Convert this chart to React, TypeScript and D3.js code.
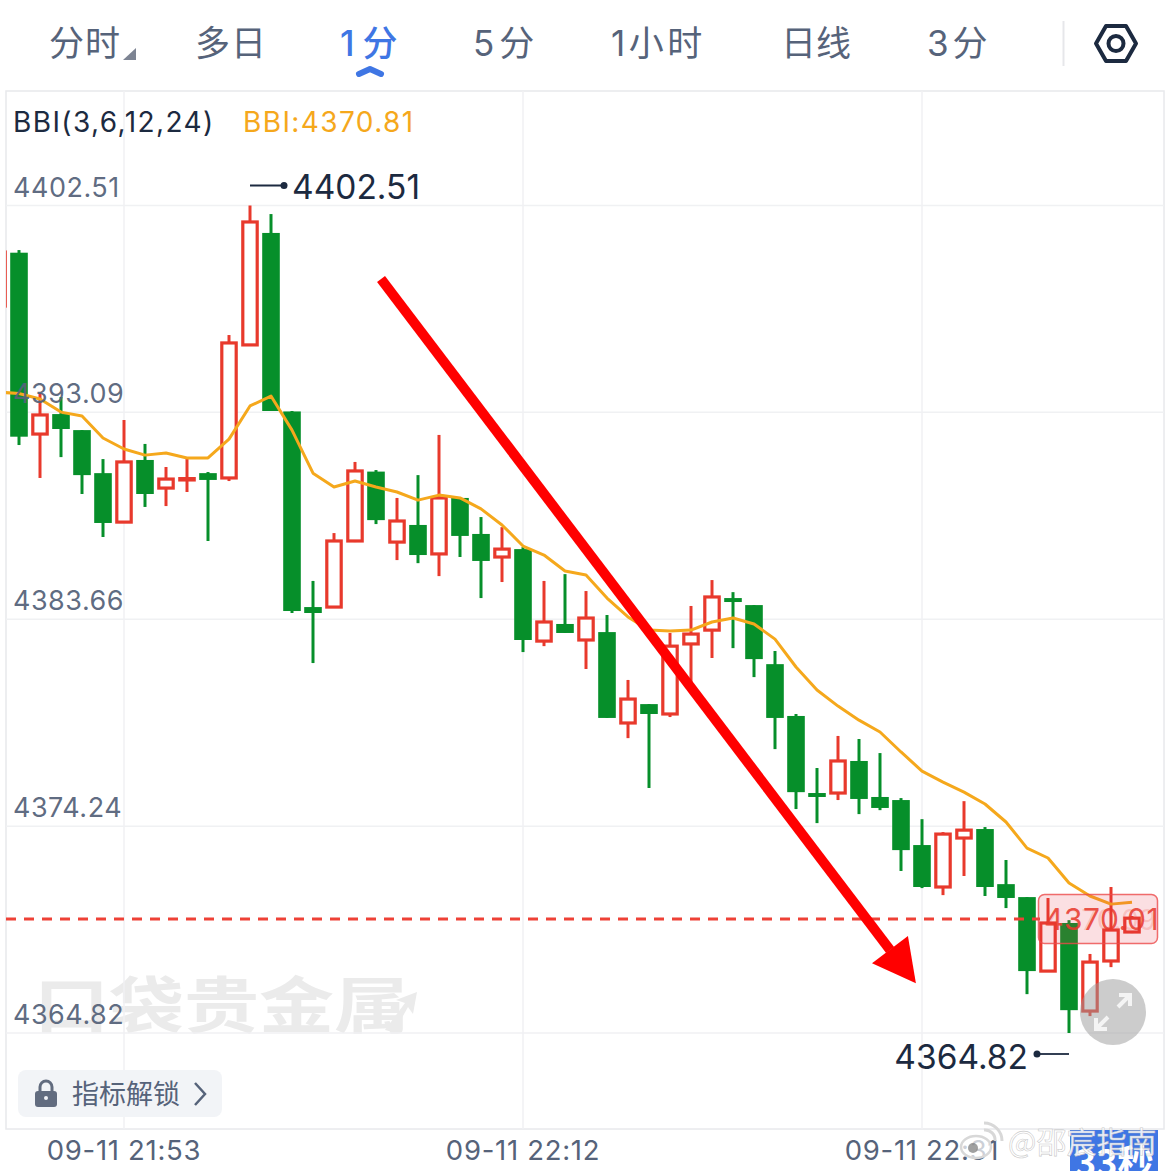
import React from "react";
import * as d3 from "d3";

// Each candle: [open, high, low, close]; first index is -1 (partly clipped at the left edge)
const firstIndex = -1;
const candles: number[][] = [
  [4397.93, 4400.39, 4397.93, 4400.39],
  [4400.36, 4400.48, 4391.60, 4391.98],
  [4392.10, 4393.97, 4390.10, 4392.97],
  [4393.01, 4393.79, 4391.05, 4392.33],
  [4392.28, 4392.28, 4389.37, 4390.23],
  [4390.32, 4390.96, 4387.41, 4388.05],
  [4388.09, 4392.74, 4388.09, 4390.83],
  [4390.92, 4391.65, 4388.78, 4389.37],
  [4389.64, 4390.60, 4388.82, 4390.05],
  [4390.01, 4391.01, 4389.46, 4390.07],
  [4390.32, 4390.37, 4387.23, 4390.01],
  [4390.10, 4396.61, 4389.96, 4396.25],
  [4396.16, 4402.51, 4396.16, 4401.76],
  [4401.26, 4402.12, 4393.15, 4393.15],
  [4393.13, 4393.15, 4383.95, 4384.04],
  [4384.22, 4385.41, 4381.67, 4383.95],
  [4384.22, 4387.59, 4384.22, 4387.23],
  [4387.23, 4390.83, 4387.18, 4390.42],
  [4390.39, 4390.46, 4388.00, 4388.18],
  [4387.18, 4389.19, 4386.36, 4388.14],
  [4387.96, 4390.23, 4386.22, 4386.59],
  [4386.64, 4392.06, 4385.63, 4389.19],
  [4389.19, 4389.19, 4386.50, 4387.46],
  [4387.55, 4388.32, 4384.63, 4386.32],
  [4386.50, 4387.86, 4385.36, 4386.86],
  [4386.86, 4386.95, 4382.17, 4382.72],
  [4382.67, 4385.41, 4382.44, 4383.54],
  [4383.45, 4385.72, 4383.04, 4383.04],
  [4382.72, 4384.95, 4381.40, 4383.72],
  [4383.08, 4383.86, 4379.17, 4379.17],
  [4378.94, 4380.90, 4378.25, 4380.03],
  [4379.80, 4379.80, 4375.98, 4379.35],
  [4379.35, 4383.04, 4379.21, 4382.44],
  [4382.54, 4384.27, 4380.76, 4382.99],
  [4383.17, 4385.45, 4381.90, 4384.68],
  [4384.63, 4384.90, 4382.35, 4384.45],
  [4384.31, 4384.31, 4381.03, 4381.85],
  [4381.62, 4382.22, 4377.75, 4379.17],
  [4379.26, 4379.35, 4375.02, 4375.79],
  [4375.75, 4376.89, 4374.38, 4375.57],
  [4375.75, 4378.35, 4375.43, 4377.21],
  [4377.21, 4378.21, 4374.79, 4375.48],
  [4375.57, 4377.57, 4374.97, 4375.07],
  [4375.43, 4375.52, 4372.20, 4373.15],
  [4373.38, 4374.56, 4371.42, 4371.47],
  [4371.47, 4373.97, 4371.10, 4373.88],
  [4373.70, 4375.38, 4371.97, 4374.06],
  [4374.11, 4374.20, 4371.06, 4371.47],
  [4371.60, 4372.70, 4370.51, 4370.97],
  [4371.01, 4371.01, 4366.59, 4367.64],
  [4367.64, 4370.97, 4367.64, 4369.83],
  [4369.83, 4369.96, 4364.82, 4365.86],
  [4365.82, 4368.42, 4365.59, 4368.05],
  [4368.10, 4371.47, 4367.82, 4369.51],
  [4369.42, 4370.15, 4369.37, 4370.05],
];
const bbi: number[] = [
  4394.01, 4393.95, 4393.70, 4393.10, 4392.92, 4391.92, 4391.42, 4391.14, 4391.24, 4391.01,
  4391.01, 4391.87, 4393.38, 4393.83, 4392.28, 4390.32, 4389.69, 4389.96, 4389.69, 4389.46,
  4389.09, 4389.32, 4389.19, 4388.69, 4387.96, 4387.00, 4386.59, 4385.86, 4385.68, 4384.63,
  4383.77, 4383.17, 4383.13, 4383.17, 4383.54, 4383.72, 4383.45, 4382.76, 4381.49, 4380.44,
  4379.71, 4379.07, 4378.53, 4377.62, 4376.75, 4376.25, 4375.79, 4375.25, 4374.43, 4373.24,
  4372.79, 4371.65, 4371.06, 4370.69, 4370.78,
];
const priceTicks = [4402.51, 4393.09, 4383.66, 4374.24, 4364.82];
const timeTicks: [number, string][] = [[5, "09-11 21:53"], [24, "09-11 22:12"], [43, "09-11 22:31"]];
const tabs: [string, number, number][] = [["分时", 49, 1], ["多日", 195, 1], ["1分", 340, 8], ["5分", 473, 5], ["1小时", 611, 3.5], ["日线", 781, 0], ["3分", 927, 4]];
const currentPrice = 4370.01;
const maxPoint = { i: 11, price: 4402.51 };
const minPoint = { i: 50, price: 4364.82 };
// hand-drawn arrow, in chart coordinates [index, price]
const arrowShaft: [number, number][] = [[17.24, 4399.16], [41.48, 4368.6]];
const arrowHead: [number, number][] = [[42.71, 4367.09], [40.62, 4368.0], [42.33, 4369.24]];

const x = d3.scaleLinear().domain([-1, 54]).range([-2, 1153]);
const y = d3.scaleLinear().domain([4364.82, 4402.51]).range([1033, 205.5]);

const UP = "#e8392c";
const DOWN = "#068f2a";
const GRID = "#f0f1f3";
const GREY = "#56637a";
const DARK = "#1c2a40";
const ORANGE = "#f5a81c";
const BLUE = "#3f76e4";
const FONT = "'Inter','Noto Sans CJK SC',sans-serif";
const CJK = "'Noto Sans CJK SC',sans-serif";

const bbiLine = d3.line<number>().x((_, k) => x(firstIndex + k)).y((d) => y(d));

export default function App() {
  const L = 6, R = 1164, T = 91, B = 1129;
  return (
    <svg width={1170} height={1171} style={{ position: "absolute", left: 0, top: 0, display: "block", background: "#fff" }} fontFamily={FONT}>
      <defs>
        <clipPath id="plot"><rect x={L} y={T} width={R - L} height={B - T} /></clipPath>
        <clipPath id="badge"><rect x={1070} y={1130} width={88} height={41} /></clipPath>
      </defs>

      {/* tabs */}
      {tabs.map(([t, tx, sp]) => (
        <text key={t} x={tx} y={56} fontSize={35} letterSpacing={sp} fill={t === "1分" ? BLUE : GREY} fontWeight={t === "1分" ? 500 : 400} fontFamily={FONT}>{t}</text>
      ))}
      <path d="M123 60 L136 60 L136 48 Z" fill="#7d8493" />
      <path d="M359 74 L370 69 L381 74" fill="none" stroke={BLUE} strokeWidth={6} strokeLinecap="round" strokeLinejoin="round" />
      <line x1={1063.5} x2={1063.5} y1={21} y2={66} stroke="#e6e7ea" strokeWidth={2} />
      <path d="M1106 26 L1126 26 L1136 43.500 L1126 61 L1106 61 L1096 43.500 Z" fill="none" stroke={DARK} strokeWidth={4} strokeLinejoin="round" />
      <circle cx={1116} cy={43.5} r={7.500} fill="none" stroke={DARK} strokeWidth={4} />

      {/* frame */}
      <rect x={L} y={T} width={R - L} height={B - T} fill="#fff" stroke="#e8e9ec" strokeWidth={1.500} />

      {/* watermark */}
      <g transform="translate(34,1028) scale(1,0.82)">
        <text x={0} y={0} fontSize={75} fontWeight={700} fill="#ebebeb" fontFamily={CJK}>口袋贵金属</text>
      </g>
      <path d="M385 1030 L405 1003 L396 1000 L417 992 L413 1014 L408 1007 L394 1032 Z" fill="#ebebeb" />

      {/* grid */}
      {priceTicks.map((p) => <line key={p} x1={L} x2={R} y1={y(p)} y2={y(p)} stroke={GRID} strokeWidth={1.500} />)}
      {timeTicks.map(([i]) => <line key={i} x1={x(i)} x2={x(i)} y1={T} y2={B} stroke={GRID} strokeWidth={1.500} />)}

      {/* candles */}
      <g clipPath="url(#plot)">
        {candles.map((c, k) => {
          const [o, h, l, cl] = c;
          const cx = x(firstIndex + k);
          const up = cl > o;
          const col = up ? UP : DOWN;
          const top = y(Math.max(o, cl));
          const bot = y(Math.min(o, cl));
          return (
            <g key={k}>
              <line x1={cx} x2={cx} y1={y(h)} y2={y(l)} stroke={col} strokeWidth={3} />
              {up ? (
                <rect x={cx - 7.200} y={top} width={14.400} height={Math.max(bot - top, 1)} fill="#fff" stroke={col} strokeWidth={3.200} />
              ) : (
                <rect x={cx - 8.800} y={top} width={17.600} height={Math.max(bot - top, 3)} fill={col} />
              )}
            </g>
          );
        })}
        <path d={bbiLine(bbi) || ""} fill="none" stroke={ORANGE} strokeWidth={3} strokeLinejoin="round" />
      </g>

      {/* price labels */}
      {priceTicks.map((p) => (
        <text key={p} x={13} y={y(p) - 9} fontSize={27} letterSpacing={0.5} fill={GREY} fillOpacity={0.95}>{p.toFixed(2)}</text>
      ))}

      {/* legend */}
      <text x={13} y={132} fontSize={28} letterSpacing={1.4} fill={DARK}>BBI(3,6,12,24)</text>
      <text x={243} y={132} fontSize={28} letterSpacing={1.4} fill={ORANGE}>BBI:4370.81</text>

      {/* max / min markers */}
      <line x1={x(maxPoint.i)} x2={x(maxPoint.i) + 34} y1={y(maxPoint.price) - 20} y2={y(maxPoint.price) - 20} stroke={DARK} strokeWidth={1.800} />
      <circle cx={x(maxPoint.i) + 34} cy={y(maxPoint.price) - 20} r={3.500} fill={DARK} />
      <text x={x(maxPoint.i) + 42} y={y(maxPoint.price) - 7} fontSize={33.500} fill={DARK}>{maxPoint.price.toFixed(2)}</text>
      <line x1={x(minPoint.i)} x2={x(minPoint.i) - 32} y1={y(minPoint.price) + 21} y2={y(minPoint.price) + 21} stroke={DARK} strokeWidth={1.800} />
      <circle cx={x(minPoint.i) - 32} cy={y(minPoint.price) + 21} r={3.500} fill={DARK} />
      <text x={x(minPoint.i) - 41} y={y(minPoint.price) + 36} textAnchor="end" fontSize={33.500} fill={DARK}>{minPoint.price.toFixed(2)}</text>

      {/* current price line and tag */}
      <line x1={L} x2={1040} y1={y(currentPrice)} y2={y(currentPrice)} stroke="#ee4136" strokeWidth={3} strokeDasharray="10 8" />
      <rect x={1038.500} y={894.500} width={119} height={49} rx={6} fill="#e8394a" fillOpacity={0.16} stroke="#ec4a4a" strokeOpacity={0.8} strokeWidth={1.500} />
      <text x={1156} y={930} textAnchor="end" fontSize={28} fill="#ef4136" fillOpacity={0.2}>4370.09</text>
      <text x={1044} y={930} fontSize={30} letterSpacing={0.5} fill="#e8392c" fillOpacity={0.85}>{currentPrice.toFixed(2)}</text>

      {/* red arrow */}
      <line x1={x(arrowShaft[0][0])} y1={y(arrowShaft[0][1])} x2={x(arrowShaft[1][0])} y2={y(arrowShaft[1][1])} stroke="#ff0000" strokeWidth={10} />
      <polygon points={arrowHead.map(([i, p]) => `${x(i)},${y(p)}`).join(" ")} fill="#ff0000" />

      {/* expand button */}
      <circle cx={1113} cy={1012} r={33} fill="#9a9a9a" fillOpacity={0.5} />
      <g stroke="#f4f4f4" strokeWidth={4} fill="none">
        <path d="M1118 1007 L1129 996 M1119 995 L1130 995 L1130 1006" />
        <path d="M1108 1017 L1097 1028 M1096 1018 L1096 1029 L1107 1029" />
      </g>

      {/* lock button */}
      <rect x={18} y={1070} width={204} height={47} rx={8} fill="#f2f4f7" />
      <rect x={35} y={1091} width={22} height={16} rx={3} fill="#626c7f" />
      <path d="M40 1091 L40 1087 A6 6 0 0 1 52 1087 L52 1091" fill="none" stroke="#626c7f" strokeWidth={3} />
      <circle cx={46} cy={1098} r={2} fill="#f2f4f7" />
      <text x={72} y={1104} fontSize={27} fill={GREY} fontFamily={CJK}>指标解锁</text>
      <path d="M195 1083 L205 1094 L195 1105" fill="none" stroke={GREY} strokeWidth={2.500} />

      {/* time axis */}
      {timeTicks.map(([i, t]) => (
        <text key={i} x={x(i)} y={1160} textAnchor="middle" fontSize={27.500} letterSpacing={0.7} fill={GREY}>{t}</text>
      ))}

      {/* timer badge and reposting watermark */}
      <rect x={1070} y={1130} width={88} height={41} fill={BLUE} />
      <g clipPath="url(#badge)">
        <text x={1075} y={1176} fontSize={36} fontWeight={700} fill="#fff" fontFamily={CJK}>33秒</text>
      </g>
      <g stroke="#ffffff" strokeWidth={5} fill="none">
        <ellipse cx={976} cy={1147} rx={15} ry={11} fill="#fff" fillOpacity={0.7} stroke="#d8d8d8" strokeWidth={2.500} />
        <path d="M984 1130 A10 10 0 0 1 995 1141" stroke="#d8d8d8" strokeWidth={3} />
        <path d="M984 1123 A18 18 0 0 1 1002 1141" stroke="#d8d8d8" strokeWidth={3} />
      </g>
      <circle cx={973} cy={1148} r={5} fill="#777" fillOpacity={0.7} />
      <text x={1008} y={1153} fontSize={30} fill="#ffffff" fillOpacity={0.88} stroke="#bbbbbb" strokeWidth={0.6} strokeOpacity={0.8} fontFamily={CJK}>@邵宸指南</text>
    </svg>
  );
}
